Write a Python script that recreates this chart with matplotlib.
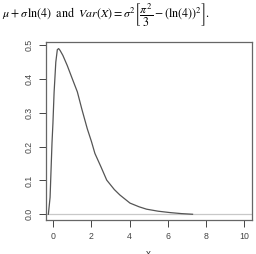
import numpy as np
import matplotlib
matplotlib.use('Agg')
import matplotlib.pyplot as plt

plt.rcParams['mathtext.fontset'] = 'stix'
plt.rcParams['font.family'] = ['Liberation Sans', 'DejaVu Sans']

# density curve
x = [-0.26, -0.17, -0.07, -0.02, 0.04, 0.13, 0.21, 0.28, 0.35, 0.5, 0.73, 1.0, 1.26,
     1.5, 1.78, 2.0, 2.18, 2.5, 2.8, 3.2, 3.49, 4.02, 4.5, 4.89, 5.5, 6.11, 6.7, 7.3]
y = [0.0, 0.05, 0.21, 0.27, 0.36, 0.45, 0.487, 0.49, 0.485, 0.47, 0.44, 0.40, 0.362,
     0.31, 0.253, 0.215, 0.180, 0.14, 0.101, 0.073, 0.057, 0.033, 0.022, 0.015,
     0.009, 0.005, 0.002, 0.0]
xticks = [0, 2, 4, 6, 8, 10]
yticks = [0.0, 0.1, 0.2, 0.3, 0.4, 0.5]

fig = plt.figure(figsize=(2.56, 2.54), dpi=100)
ax = fig.add_axes([0.1785, 0.134, 0.8045, 0.701])

ax.axhline(0, color='#c8c8c8', lw=0.9, zorder=1)
ax.plot(x, y, color='#555555', lw=0.9, zorder=2)

ax.set_xlim(-0.4, 10.4)
ax.set_ylim(-0.0169, 0.5098)
ax.set_xticks(xticks)
ax.set_xticklabels([str(t) for t in xticks])
ax.set_yticks(yticks)
ax.set_yticklabels(['%.1f' % t for t in yticks], rotation=90, va='center')
ax.tick_params(labelsize=6.3, length=5, width=0.7, colors='#444444', pad=4)
for s in ax.spines.values():
    s.set_color('#666666')
    s.set_linewidth(0.9)

fig.text(0.008, 0.94,
         r'$\mu+\sigma\,\mathrm{ln}(4)\;$ and $\;Var(X)=\sigma^2\left[\dfrac{\pi^2}{3}-\left(\mathrm{ln}(4)\right)^2\right].$',
         fontsize=8.6, va='center', ha='left', family='STIXGeneral')
fig.text(0.58, 0.02, 'x', fontsize=7, va='top', ha='center', color='#333333')

fig.savefig('out.png', dpi=100)
